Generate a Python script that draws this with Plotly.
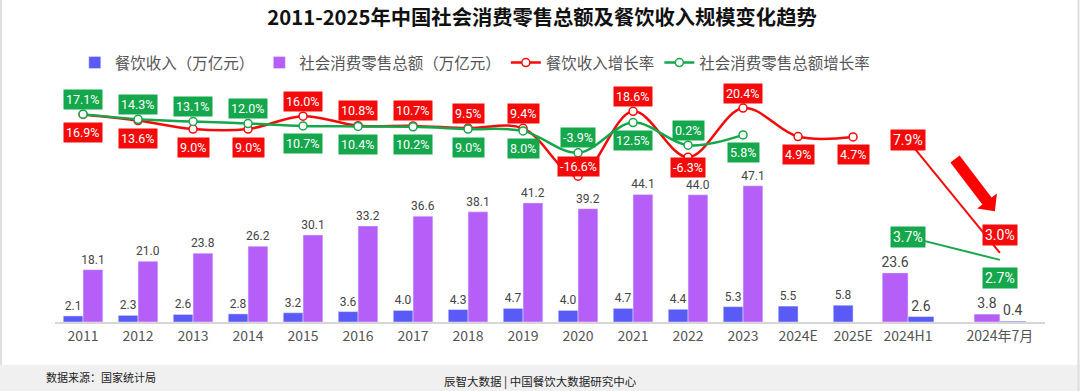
import plotly.graph_objects as go
import math

# ---------------- data ----------------
categories = ["2011", "2012", "2013", "2014", "2015", "2016", "2017", "2018",
              "2019", "2020", "2021", "2022", "2023", "2024E", "2025E"]
catering_revenue = [2.1, 2.3, 2.6, 2.8, 3.2, 3.6, 4.0, 4.3, 4.7, 4.0, 4.7, 4.4, 5.3, 5.5, 5.8]
retail_total = [18.1, 21.0, 23.8, 26.2, 30.1, 33.2, 36.6, 38.1, 41.2, 39.2, 44.1, 44.0, 47.1, None, None]
catering_growth = [16.9, 13.6, 9.0, 9.0, 16.0, 10.8, 10.7, 9.5, 9.4, -16.6, 18.6, -6.3, 20.4, 4.9, 4.7]
retail_growth = [17.1, 14.3, 13.1, 12.0, 10.7, 10.4, 10.2, 9.0, 8.0, -3.9, 12.5, 0.2, 5.8, None, None]

recent_periods = ["2024H1", "2024年7月"]
recent_retail = [23.6, 3.8]
recent_catering = [2.6, 0.4]
recent_catering_growth = [7.9, 3.0]
recent_retail_growth = [3.7, 2.7]

# ---------------- style ----------------
BLUE = "#5a5af6"
PURPLE = "#b65ef8"
RED = "#f50a0a"
GREEN = "#14a74b"
FONT = "Roboto, 'Noto Sans CJK SC', sans-serif"
CJK = "'Noto Sans CJK SC', Roboto, sans-serif"

W, H = 1080, 391
ML, MR, MT, MB = 55, 35, 80, 69
PW, PH = W - ML - MR, H - MT - MB
Y2_RANGE = [-95.87, 35.65]
Y2_PX_PER_UNIT = PH / (Y2_RANGE[1] - Y2_RANGE[0])
LABEL_FLOOR_PX = 167  # lowest centre (page px) allowed for rate labels


def px_x(p):
    return (p - ML) / PW


def px_y(p):
    return (H - MB - p) / PH


def y2_to_px(v):
    return MT + (Y2_RANGE[1] - v) * Y2_PX_PER_UNIT


main_x = list(range(len(categories)))
recent_x = [len(categories), len(categories) + 1.67]

fig = go.Figure()

bar_text = dict(size=12, color="#444", family=FONT)
fig.add_trace(go.Bar(x=main_x, y=catering_revenue, name="餐饮收入（万亿元）",
                     marker_color=BLUE, offset=-0.36, width=0.36,
                     texttemplate="%{y:.1f}", textposition="outside", constraintext="none",
                     textfont=bar_text, cliponaxis=False, yaxis="y"))
fig.add_trace(go.Bar(x=main_x, y=retail_total, name="社会消费零售总额（万亿元）",
                     marker_color=PURPLE, offset=0, width=0.36,
                     texttemplate="%{y:.1f}", textposition="outside", constraintext="none",
                     textfont=bar_text, cliponaxis=False, yaxis="y"))

fig.add_trace(go.Scatter(x=main_x, y=catering_growth, name="餐饮收入增长率",
                         mode="lines+markers", line=dict(color=RED, width=2.5, shape="spline", smoothing=1),
                         marker=dict(symbol="circle", size=8, color="white", line=dict(color=RED, width=1.5)),
                         cliponaxis=False, yaxis="y2"))
fig.add_trace(go.Scatter(x=main_x, y=retail_growth, name="社会消费零售总额增长率",
                         mode="lines+markers", line=dict(color=GREEN, width=2.5, shape="spline", smoothing=1),
                         marker=dict(symbol="circle", size=8, color="white", line=dict(color=GREEN, width=1.5)),
                         cliponaxis=False, yaxis="y2"))

inset_text = dict(size=14, color="#444", family=FONT)
fig.add_trace(go.Bar(x=recent_x, y=recent_retail, marker_color=PURPLE, offset=-0.47, width=0.47,
                     texttemplate="%{y:.1f}", textposition="outside", constraintext="none",
                     textfont=inset_text, cliponaxis=False, showlegend=False, yaxis="y3"))
fig.add_trace(go.Bar(x=recent_x, y=recent_catering, marker_color=BLUE, offset=0, width=0.47,
                     texttemplate="%{y:.1f}", textposition="outside", constraintext="none",
                     textfont=inset_text, cliponaxis=False, showlegend=False, yaxis="y3"))

fig.add_trace(go.Scatter(x=recent_x, y=recent_catering_growth, mode="lines",
                         line=dict(color=RED, width=2), showlegend=False, cliponaxis=False, yaxis="y4"))
fig.add_trace(go.Scatter(x=recent_x, y=recent_retail_growth, mode="lines",
                         line=dict(color=GREEN, width=2), showlegend=False, cliponaxis=False, yaxis="y4"))

annotations = []


def tag(x, v, color, yref, shift, size):
    annotations.append(dict(x=x, y=v, xref="x", yref=yref, text=f"{v:.1f}%", showarrow=False,
                            bgcolor=color, font=dict(color="white", size=size, family=FONT),
                            borderpad=2, yshift=shift))


def below_shift(v):
    p = y2_to_px(v)
    return -min(18, LABEL_FLOOR_PX - p)


for i in main_x:
    r, g = catering_growth[i], retail_growth[i]
    if g is None:
        tag(i, r, RED, "y2", below_shift(r), 12.5)
    elif r >= g:
        tag(i, r, RED, "y2", 15, 12.5)
        tag(i, g, GREEN, "y2", below_shift(g), 12.5)
    else:
        tag(i, g, GREEN, "y2", 15, 12.5)
        tag(i, r, RED, "y2", below_shift(r), 12.5)

recent_red_shift = [0, 18]
recent_green_shift = [0, -18]
for j, xv in enumerate(recent_x):
    tag(xv, recent_catering_growth[j], RED, "y4", recent_red_shift[j], 14)
    tag(xv, recent_retail_growth[j], GREEN, "y4", recent_green_shift[j], 14)

annotations.append(dict(x=px_x(44), y=px_y(377), xref="paper", yref="paper", xanchor="left",
                        yanchor="middle", text="数据来源：国家统计局", showarrow=False,
                        font=dict(size=11, color="#222", family=CJK)))
annotations.append(dict(x=px_x(540), y=px_y(381), xref="paper", yref="paper", xanchor="center",
                        yanchor="middle", text="辰智大数据 | 中国餐饮大数据研究中心", showarrow=False,
                        font=dict(size=11.5, color="#222", family=CJK)))

# thick red arrow (decoration) built in page pixels
tail, base, tip_len, shaft_hw, head_hw = (955, 159), (987, 201), 13, 5.8, 12.5
dx, dy = base[0] - tail[0], base[1] - tail[1]
L = math.hypot(dx, dy)
ux, uy = dx / L, dy / L
nx, ny = -uy, ux
tip = (base[0] + tip_len * ux, base[1] + tip_len * uy)
pts = [
    (tail[0] + shaft_hw * nx, tail[1] + shaft_hw * ny),
    (base[0] + shaft_hw * nx, base[1] + shaft_hw * ny),
    (base[0] + head_hw * nx, base[1] + head_hw * ny),
    tip,
    (base[0] - head_hw * nx, base[1] - head_hw * ny),
    (base[0] - shaft_hw * nx, base[1] - shaft_hw * ny),
    (tail[0] - shaft_hw * nx, tail[1] - shaft_hw * ny),
]
arrow_path = "M " + " L ".join(f"{px_x(a):.5f},{px_y(b):.5f}" for a, b in pts) + " Z"

shapes = [
    dict(type="rect", xref="paper", yref="paper", x0=px_x(0), x1=px_x(W),
         y0=px_y(365), y1=px_y(H), fillcolor="#f0f0f0", line=dict(width=0), layer="below"),
    dict(type="path", xref="paper", yref="paper", path=arrow_path, fillcolor="#ff0000",
         line=dict(width=0), layer="above"),
    dict(type="line", xref="paper", yref="paper", x0=px_x(1), x1=px_x(1), y0=px_y(0), y1=px_y(365),
         line=dict(color="#dedede", width=2)),
    dict(type="line", xref="paper", yref="paper", x0=px_x(1078.5), x1=px_x(1078.5), y0=px_y(0), y1=px_y(H),
         line=dict(color="#dedede", width=2)),
]

fig.update_layout(
    width=W, height=H,
    margin=dict(l=ML, r=MR, t=MT, b=MB),
    paper_bgcolor="white", plot_bgcolor="white",
    barmode="overlay",
    font=dict(family=CJK, color="#555"),
    title=dict(text="<b>2011-2025年中国社会消费零售总额及餐饮收入规模变化趋势</b>",
               x=542 / W, xanchor="center", xref="container", y=1 - 18 / H, yanchor="middle",
               font=dict(size=20.3, color="#111", family=CJK)),
    legend=dict(orientation="h", x=0.02, xanchor="left", y=px_y(63), yanchor="middle",
                font=dict(size=15.5, color="#555", family=CJK), itemwidth=30,
                bgcolor="rgba(0,0,0,0)"),
    xaxis=dict(range=[-0.51, 17.49], tickvals=main_x + recent_x, ticktext=categories + recent_periods,
               showgrid=False, zeroline=False, showline=True, linecolor="#d6d6d6", linewidth=1.5,
               ticks="", tickfont=dict(size=14, color="#555", family=CJK)),
    yaxis=dict(range=[0, 83.7], visible=False),
    yaxis2=dict(range=Y2_RANGE, overlaying="y", visible=False),
    yaxis3=dict(range=[0, 116.3], overlaying="y", visible=False),
    yaxis4=dict(range=[0, 10.52], overlaying="y", visible=False),
    annotations=annotations,
    shapes=shapes,
)

fig.write_html("out.html", config={"displayModeBar": False},
               post_script="document.body.style.margin='0';")
